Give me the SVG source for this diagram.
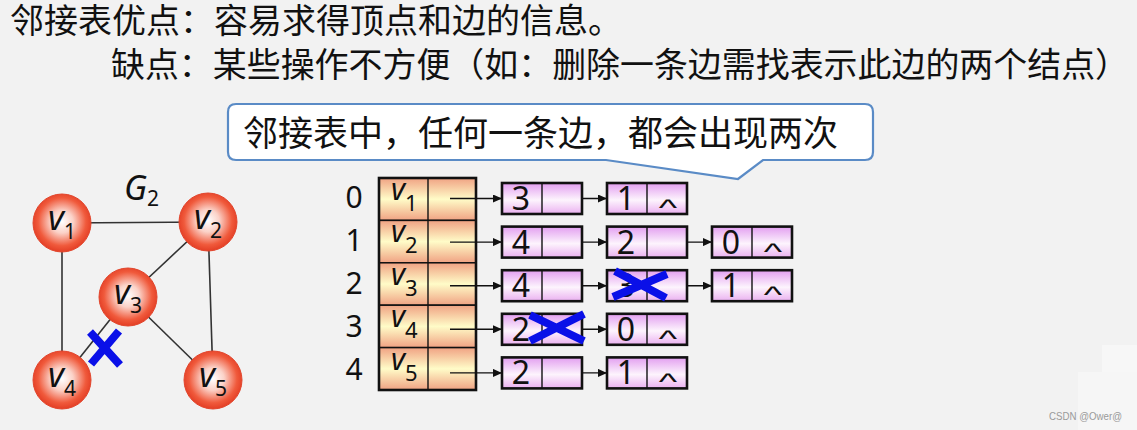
<svg xmlns="http://www.w3.org/2000/svg" width="1137" height="430" viewBox="0 0 1137 430">
<style>
.cjk{font-family:"Noto Sans CJK SC","Noto Sans",sans-serif;fill:#111}
.ttl{font-family:"Liberation Sans","Noto Sans CJK SC",sans-serif;fill:#111;font-size:34px}
.num{font-family:"Noto Sans","DejaVu Sans",sans-serif;fill:#111}
.it{font-family:"Noto Sans","DejaVu Sans",sans-serif;font-style:italic;fill:#111}
.edge{stroke:#333;stroke-width:1.6;fill:none}
.arr{stroke:#111;stroke-width:1.4;fill:none;marker-end:url(#ah)}
.gn{fill:url(#rg);stroke:#e2452c;stroke-width:1}
.tr{fill:url(#tg);stroke:#111;stroke-width:1.5}
.ln{fill:url(#lg);stroke:#111;stroke-width:2.6}
.dv{stroke:#111;stroke-width:1.4}
.x{stroke:#0a10e8;stroke-width:8;fill:none}
.cap{font-family:"Liberation Sans",Arial,sans-serif;font-size:34px;fill:#111;text-anchor:middle}
.d{font-size:32px;text-anchor:middle}
</style>
<defs>
<radialGradient id="rg" cx="50%" cy="48%" r="55%">
<stop offset="0" stop-color="#ffffff"/>
<stop offset="0.35" stop-color="#fbd2c8"/>
<stop offset="0.75" stop-color="#f05a3c"/>
<stop offset="1" stop-color="#e0361e"/>
</radialGradient>
<linearGradient id="tg" x1="0" y1="0" x2="0" y2="1">
<stop offset="0" stop-color="#f0a283"/>
<stop offset="0.5" stop-color="#fffcc8"/>
<stop offset="1" stop-color="#f0a283"/>
</linearGradient>
<linearGradient id="lg" x1="0" y1="0" x2="0" y2="1">
<stop offset="0" stop-color="#e29ef0"/>
<stop offset="0.55" stop-color="#fdf4fd"/>
<stop offset="1" stop-color="#eab0f0"/>
</linearGradient>
<marker id="ah" markerUnits="userSpaceOnUse" markerWidth="9" markerHeight="8" refX="9" refY="4" orient="auto">
<path d="M0,0 L9,4 L0,8 z" fill="#111"/>
</marker>
</defs>
<rect width="1137" height="430" fill="#f2f2f2"/>
<rect x="1078" y="372" width="59" height="58" fill="#f6f6f6"/>
<rect x="1102" y="345" width="35" height="27" fill="#f7f7f7"/>

<g id="title">
<text class="ttl" x="10" y="33">邻接表优点：容易求得顶点和边的信息。</text>
<text class="ttl" x="111" y="77" textLength="1018" lengthAdjust="spacingAndGlyphs">缺点：某些操作不方便（如：删除一条边需找表示此边的两个结点）</text>
</g>

<g id="callout">
<path d="M236,104 H865 Q873,104 873,112 V152 Q873,160 865,160 H763 L738,179 L606,160 H236 Q228,160 228,152 V112 Q228,104 236,104 Z" fill="#fff" stroke="#5a8bc6" stroke-width="2.2"/>
<text class="cjk" x="243" y="146" font-size="35">邻接表中，任何一条边，都会出现两次</text>
</g>

<g id="graph-edges">
<line class="edge" x1="62" y1="223" x2="208" y2="222"/>
<line class="edge" x1="62" y1="223" x2="62" y2="380"/>
<line class="edge" x1="208" y1="222" x2="128" y2="297"/>
<line class="edge" x1="208" y1="222" x2="213" y2="380"/>
<line class="edge" x1="128" y1="297" x2="213" y2="380"/>
<line class="edge" x1="128" y1="297" x2="62" y2="380"/>
</g>
<text id="g2" class="it" x="124" y="200" font-size="34">G<tspan font-style="normal" font-size="21" dy="6">2</tspan></text>
<g id="v1"><circle class="gn" cx="62" cy="223" r="29"/><text class="it" x="48" y="230" font-size="34">v</text><text class="num" x="64" y="239" font-size="21">1</text></g>
<g id="v2"><circle class="gn" cx="208" cy="222" r="29"/><text class="it" x="194" y="229" font-size="34">v</text><text class="num" x="210" y="238" font-size="21">2</text></g>
<g id="v3"><circle class="gn" cx="128" cy="297" r="29"/><text class="it" x="114" y="304" font-size="34">v</text><text class="num" x="130" y="313" font-size="21">3</text></g>
<g id="v4"><circle class="gn" cx="62" cy="380" r="29"/><text class="it" x="48" y="387" font-size="34">v</text><text class="num" x="64" y="396" font-size="21">4</text></g>
<g id="v5"><circle class="gn" cx="213" cy="380" r="29"/><text class="it" x="199" y="387" font-size="34">v</text><text class="num" x="215" y="396" font-size="21">5</text></g>
<g id="cross-graph"><path class="x" d="M90,332 L120,365 M119,331 L91,364"/></g>

<g id="table">
<g id="row0"><text class="num" x="354" y="208" font-size="30" text-anchor="middle">0</text><rect class="tr" x="379" y="178" width="97" height="42.4"/><line class="dv" x1="428" y1="178" x2="428" y2="220.4"/><text class="it" x="391" y="200" font-size="30">v</text><text class="num" x="405" y="211" font-size="22">1</text></g>
<g id="row1"><text class="num" x="354" y="251" font-size="30" text-anchor="middle">1</text><rect class="tr" x="379" y="220.4" width="97" height="42.4"/><line class="dv" x1="428" y1="220.4" x2="428" y2="262.8"/><text class="it" x="391" y="242.4" font-size="30">v</text><text class="num" x="405" y="253.4" font-size="22">2</text></g>
<g id="row2"><text class="num" x="354" y="294" font-size="30" text-anchor="middle">2</text><rect class="tr" x="379" y="262.8" width="97" height="42.4"/><line class="dv" x1="428" y1="262.8" x2="428" y2="305.2"/><text class="it" x="391" y="284.8" font-size="30">v</text><text class="num" x="405" y="295.8" font-size="22">3</text></g>
<g id="row3"><text class="num" x="354" y="337" font-size="30" text-anchor="middle">3</text><rect class="tr" x="379" y="305.2" width="97" height="42.4"/><line class="dv" x1="428" y1="305.2" x2="428" y2="347.6"/><text class="it" x="391" y="327.2" font-size="30">v</text><text class="num" x="405" y="338.2" font-size="22">4</text></g>
<g id="row4"><text class="num" x="354" y="380" font-size="30" text-anchor="middle">4</text><rect class="tr" x="379" y="347.6" width="97" height="42.4"/><line class="dv" x1="428" y1="347.6" x2="428" y2="390"/><text class="it" x="391" y="369.6" font-size="30">v</text><text class="num" x="405" y="380.6" font-size="22">5</text></g>
<rect x="379" y="178" width="97" height="212" fill="none" stroke="#111" stroke-width="2.6"/>
</g>

<g id="connectors">
<line class="arr" x1="450" y1="198.5" x2="502" y2="198.5"/>
<line class="arr" x1="450" y1="242.1" x2="502" y2="242.1"/>
<line class="arr" x1="450" y1="285.7" x2="502" y2="285.7"/>
<line class="arr" x1="450" y1="329.3" x2="502" y2="329.3"/>
<line class="arr" x1="450" y1="372.9" x2="502" y2="372.9"/>
<line class="arr" x1="555" y1="198.5" x2="607" y2="198.5"/>
<line class="arr" x1="555" y1="242.1" x2="607" y2="242.1"/>
<line class="arr" x1="555" y1="285.7" x2="607" y2="285.7"/>
<line class="arr" x1="555" y1="329.3" x2="607" y2="329.3"/>
<line class="arr" x1="555" y1="372.9" x2="607" y2="372.9"/>
<line class="arr" x1="660" y1="242.1" x2="712" y2="242.1"/>
<line class="arr" x1="660" y1="285.7" x2="712" y2="285.7"/>
</g>

<g id="n0a"><rect class="ln" x="502" y="183" width="80" height="31"/><line class="dv" x1="542" y1="183" x2="542" y2="214"/><text class="num d" x="521" y="210">3</text></g>
<g id="n0b"><rect class="ln" x="607" y="183" width="80" height="31"/><line class="dv" x1="647" y1="183" x2="647" y2="214"/><text class="num d" x="626" y="210">1</text><text class="cap" transform="translate(668,216) scale(1.15,0.7)">^</text></g>
<g id="n1a"><rect class="ln" x="502" y="226.6" width="80" height="31"/><line class="dv" x1="542" y1="226.6" x2="542" y2="257.6"/><text class="num d" x="521" y="253.6">4</text></g>
<g id="n1b"><rect class="ln" x="607" y="226.6" width="80" height="31"/><line class="dv" x1="647" y1="226.6" x2="647" y2="257.6"/><text class="num d" x="626" y="253.6">2</text></g>
<g id="n1c"><rect class="ln" x="712" y="226.6" width="80" height="31"/><line class="dv" x1="752" y1="226.6" x2="752" y2="257.6"/><text class="num d" x="731" y="253.6">0</text><text class="cap" transform="translate(773,259.6) scale(1.15,0.7)">^</text></g>
<g id="n2a"><rect class="ln" x="502" y="270.2" width="80" height="31"/><line class="dv" x1="542" y1="270.2" x2="542" y2="301.2"/><text class="num d" x="521" y="297.2">4</text></g>
<g id="n2b"><rect class="ln" x="607" y="270.2" width="80" height="31"/><line class="dv" x1="647" y1="270.2" x2="647" y2="301.2"/><text class="num d" x="626" y="297.2">3</text></g>
<g id="n2c"><rect class="ln" x="712" y="270.2" width="80" height="31"/><line class="dv" x1="752" y1="270.2" x2="752" y2="301.2"/><text class="num d" x="731" y="297.2">1</text><text class="cap" transform="translate(773,303.2) scale(1.15,0.7)">^</text></g>
<g id="n3a"><rect class="ln" x="502" y="313.8" width="80" height="31"/><line class="dv" x1="542" y1="313.8" x2="542" y2="344.8"/><text class="num d" x="521" y="340.8">2</text></g>
<g id="n3b"><rect class="ln" x="607" y="313.8" width="80" height="31"/><line class="dv" x1="647" y1="313.8" x2="647" y2="344.8"/><text class="num d" x="626" y="340.8">0</text><text class="cap" transform="translate(668,346.8) scale(1.15,0.7)">^</text></g>
<g id="n4a"><rect class="ln" x="502" y="357.4" width="80" height="31"/><line class="dv" x1="542" y1="357.4" x2="542" y2="388.4"/><text class="num d" x="521" y="384.4">2</text></g>
<g id="n4b"><rect class="ln" x="607" y="357.4" width="80" height="31"/><line class="dv" x1="647" y1="357.4" x2="647" y2="388.4"/><text class="num d" x="626" y="384.4">1</text><text class="cap" transform="translate(668,390.4) scale(1.15,0.7)">^</text></g>

<g id="crosses">
<path class="x" d="M613,297 L667,274 M615,271 L666,298"/>
<path class="x" d="M530,341 L584,314 M530,315 L584,341"/>
</g>

<text x="1049" y="420" font-family="Liberation Sans, Arial, sans-serif" font-size="11" textLength="73" lengthAdjust="spacingAndGlyphs" fill="#9a9a9a">CSDN @Ower@</text>
</svg>
